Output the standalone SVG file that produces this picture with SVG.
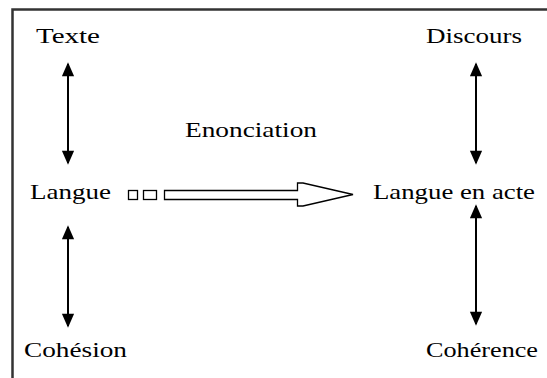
<svg xmlns="http://www.w3.org/2000/svg" width="547" height="378" viewBox="0 0 547 378">
<style>
.lbl{font-family:"Liberation Serif","Times New Roman",serif;font-size:21px;fill:#000}
.conn{stroke:#000;stroke-width:2;fill:none}
</style>
<defs>
<marker id="ah" viewBox="0 0 14 16" refX="14" refY="7" markerWidth="16" markerHeight="14" markerUnits="userSpaceOnUse" orient="auto-start-reverse">
<path d="M0,0 L16,7 L0,14 Z" fill="#000"/>
</marker>
</defs>
<rect width="547" height="378" fill="#fff"/>
<path d="M12.5,378 V9.5 H547" fill="none" stroke="#333" stroke-width="2.5"/>
<g id="texte"><text class="lbl" x="36" y="43" textLength="64" lengthAdjust="spacingAndGlyphs">Texte</text></g>
<g id="discours"><text class="lbl" x="426" y="43" textLength="96" lengthAdjust="spacingAndGlyphs">Discours</text></g>
<g id="enonciation"><text class="lbl" x="185" y="137" textLength="132" lengthAdjust="spacingAndGlyphs">Enonciation</text></g>
<g id="langue"><text class="lbl" x="30" y="199" textLength="81" lengthAdjust="spacingAndGlyphs">Langue</text></g>
<g id="langue-en-acte"><text class="lbl" x="373" y="199" textLength="162" lengthAdjust="spacingAndGlyphs">Langue en acte</text></g>
<g id="cohesion"><text class="lbl" x="24" y="357" textLength="103" lengthAdjust="spacingAndGlyphs">Cohésion</text></g>
<g id="coherence"><text class="lbl" x="426" y="357" textLength="112" lengthAdjust="spacingAndGlyphs">Cohérence</text></g>
<g id="connectors">
<line class="conn" x1="68" y1="64" x2="68" y2="163" marker-start="url(#ah)" marker-end="url(#ah)"/>
<line class="conn" x1="476" y1="64" x2="476" y2="163" marker-start="url(#ah)" marker-end="url(#ah)"/>
<line class="conn" x1="68" y1="227" x2="68" y2="326" marker-start="url(#ah)" marker-end="url(#ah)"/>
<line class="conn" x1="476" y1="206" x2="476" y2="324" marker-start="url(#ah)" marker-end="url(#ah)"/>
<g fill="#fff" stroke="#000" stroke-width="1.3">
<rect x="128.5" y="190.5" width="9" height="9"/>
<rect x="143.5" y="190.5" width="13" height="9"/>
<polygon points="164.5,190.5 297.5,190.5 297.5,183 303,183 353,194.5 303,206 297.5,206 297.5,199.5 164.5,199.5"/>
</g>
</g>
</svg>
